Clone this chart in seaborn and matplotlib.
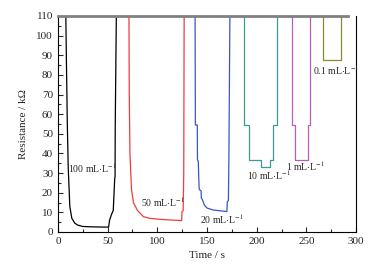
"""
Gas response curve: resistance vs time for several concentrations.
Output: out.png
"""

import pandas as pd
import matplotlib
matplotlib.use("Agg")
import matplotlib.pyplot as plt
from matplotlib.ticker import MultipleLocator
import seaborn as sns

# Series data (time in s, resistance in kOhm)
t_100 = [0, 8, 8.5, 9.5, 10.4, 12, 14, 17, 20, 25, 35, 45, 51, 52, 54, 55.7, 57.2, 57.5, 57.7, 58.8, 71.5]
r_100 = [110, 110, 90, 55, 33, 13, 7, 4.5, 3.5, 2.8, 2.6, 2.5, 2.5, 6, 9, 11, 27.5, 28, 54.5, 110, 110]

t_50 = [71.5, 71.8, 72.5, 74, 76, 80, 86, 92, 99, 110, 124.5, 124.8, 126, 126.6, 127, 138]
r_50 = [110, 70, 40, 22, 15, 11, 7.8, 7, 6.6, 6.2, 5.8, 10.4, 10.8, 30, 110, 110]

t_20 = [138, 138.3, 140.2, 140.4, 141.2, 142, 142.3, 144, 144.3, 145.3, 147.3, 150, 156, 163, 170,
        170.4, 171.5, 172, 173, 187.5]
r_20 = [110, 54.5, 54.5, 36.7, 36, 23, 21.6, 21, 17.3, 16.5, 13.7, 12.2, 11.2, 10.8, 10.4,
        15.4, 16, 36.7, 110, 110]

t_10 = [187.5, 187.5, 192, 192, 204.5, 204.5, 213, 213, 216, 216, 220.5, 220.5, 235]
r_10 = [110, 54.5, 54.5, 36.7, 36.7, 33.3, 33.3, 36.7, 36.7, 54.5, 54.5, 110, 110]

t_1 = [235, 235, 238, 238, 251.5, 251.5, 253.5, 253.5, 267]
r_1 = [110, 54.5, 54.5, 36.7, 36.7, 54.5, 54.5, 110, 110]

t_01 = [267, 267, 284.5, 284.5, 292]
r_01 = [110, 87.6, 87.6, 110, 110]

series_names = ["100", "50", "20", "10", "1", "0.1"]
series_colors = ["#000000", "#f03c3c", "#3858c0", "#3a9a94", "#b85cc0", "#8a8a30"]

# Label text and anchor (left edge, vertical centre) in data coords
label_text = [r"100 mL$\cdot$L$^{-1}$", r"50 mL$\cdot$L$^{-1}$", r"20 mL$\cdot$L$^{-1}$",
              r"10 mL$\cdot$L$^{-1}$", r"1 mL$\cdot$L$^{-1}$", r"0.1 mL$\cdot$L$^{-1}$"]
label_x = [10.5, 84, 143, 190, 229.5, 256.5]
label_y = [32.5, 15.4, 6.5, 29, 33.3, 82.5]

# Build long table for seaborn
frames = []
for name, t, r in zip(series_names,
                      [t_100, t_50, t_20, t_10, t_1, t_01],
                      [r_100, r_50, r_20, r_10, r_1, r_01]):
    frames.append(pd.DataFrame({"time": t, "res": r, "conc": name}))
df = pd.concat(frames, ignore_index=True)

sns.set_style("ticks")
plt.rcParams["font.family"] = ["Liberation Serif", "DejaVu Serif"]
plt.rcParams["mathtext.fontset"] = "stix"

fig = plt.figure(figsize=(3.71, 2.71), dpi=100)
ax = fig.add_axes([0.156, 0.144, 0.804, 0.797])

sns.lineplot(data=df, x="time", y="res", hue="conc", hue_order=series_names,
             palette=series_colors, estimator=None, sort=False, units="conc",
             linewidth=0.9, legend=False, ax=ax)

for txt, x, y in zip(label_text, label_x, label_y):
    ax.text(x, y, txt, fontsize=7, ha="left", va="center")

ax.set_xlim(0, 300)
ax.set_ylim(0, 110)
ax.xaxis.set_major_locator(MultipleLocator(50))
ax.xaxis.set_minor_locator(MultipleLocator(25))
ax.yaxis.set_major_locator(MultipleLocator(10))
ax.yaxis.set_minor_locator(MultipleLocator(5))
ax.tick_params(which="both", direction="in", labelsize=8, width=0.8)
ax.tick_params(which="major", length=3.5)
ax.tick_params(which="minor", length=2)

ax.set_xlabel("Time / s", fontsize=8, labelpad=4)
ax.set_ylabel("Resistance / k\u03a9", fontsize=8, labelpad=6)

for side in ["left", "bottom", "right"]:
    ax.spines[side].set_linewidth(0.8)
    ax.spines[side].set_color("black")
ax.spines["top"].set_color("#808080")
ax.spines["top"].set_linewidth(2)
ax.spines["top"].set_zorder(5)
ax.spines["top"].set_bounds(0, 292)

plt.savefig("out.png", dpi=100)
